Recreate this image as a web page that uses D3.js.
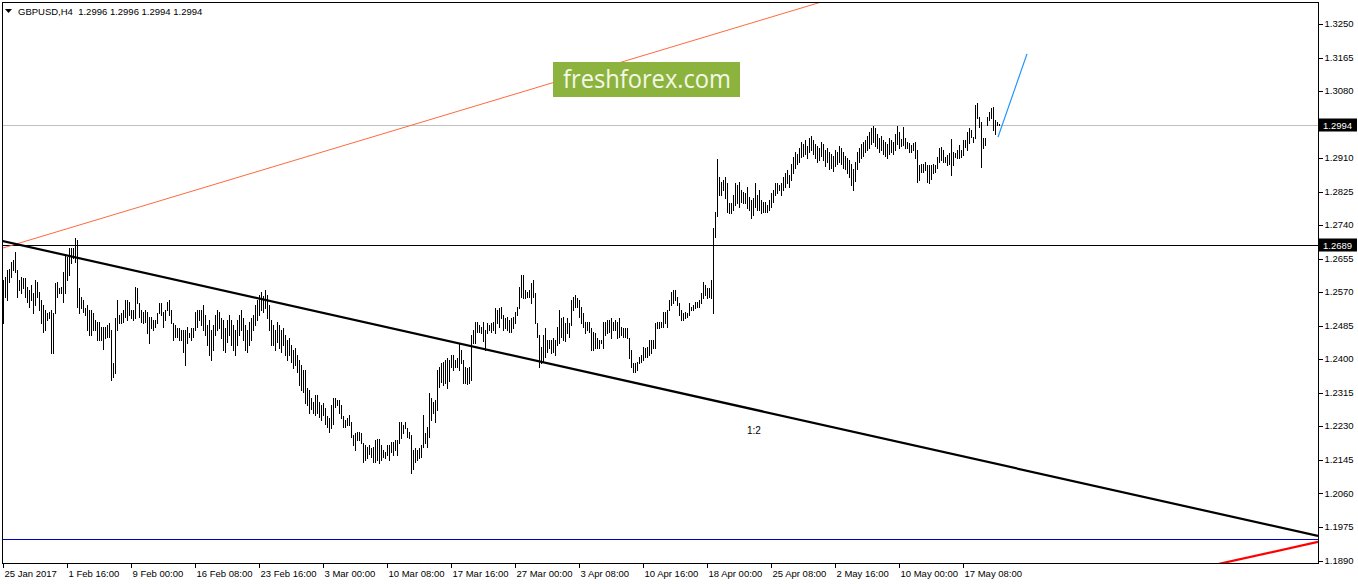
<!DOCTYPE html>
<html><head><meta charset="utf-8">
<script src="https://cdn.jsdelivr.net/npm/d3@7"></script>
<style>
body{margin:0;background:#fff;}
svg{display:block;}
text{font-family:"Liberation Sans",Arial,sans-serif;}
</style>
</head><body>
<svg id="c" width="1358" height="584"></svg>
<script>
// ---------------- data ----------------
const symbolTitle = "GBPUSD,H4";
const lastOHLC = ["1.2996", "1.2996", "1.2994", "1.2994"];

const xTickLabels = ["25 Jan 2017","1 Feb 16:00","9 Feb 00:00","16 Feb 08:00","23 Feb 16:00","3 Mar 00:00","10 Mar 08:00","17 Mar 16:00","27 Mar 00:00","3 Apr 08:00","10 Apr 16:00","18 Apr 00:00","25 Apr 08:00","2 May 16:00","10 May 00:00","17 May 08:00"];
const xTickBarIndex = [0,32,64,96,128,160,192,224,256,288,320,352,384,416,448,480];

const yTickValues = [1.3250,1.3165,1.3080,1.2910,1.2825,1.2740,1.2655,1.2570,1.2485,1.2400,1.2315,1.2230,1.2145,1.2060,1.1975,1.1890];

// H4 bar highs / lows, one per bar
const highs = [
1.2600,1.2608,1.2625,1.2629,1.2646,1.2651,1.2672,1.2625,1.2600,1.2608,
1.2604,1.2604,1.2583,1.2574,1.2587,1.2566,1.2600,1.2596,1.2570,1.2549,
1.2537,1.2524,1.2515,1.2520,1.2524,1.2515,1.2591,1.2596,1.2579,1.2583,
1.2621,1.2667,1.2659,1.2680,1.2680,1.2680,1.2706,1.2701,1.2579,1.2558,
1.2549,1.2528,1.2537,1.2524,1.2524,1.2515,1.2498,1.2494,1.2494,1.2481,
1.2481,1.2481,1.2486,1.2490,1.2473,1.2389,1.2503,1.2549,1.2511,1.2515,
1.2524,1.2549,1.2549,1.2545,1.2524,1.2524,1.2583,1.2579,1.2541,1.2524,
1.2520,1.2524,1.2520,1.2507,1.2507,1.2498,1.2498,1.2515,1.2541,1.2541,
1.2520,1.2524,1.2545,1.2549,1.2524,1.2490,1.2486,1.2477,1.2477,1.2473,
1.2473,1.2473,1.2481,1.2465,1.2477,1.2477,1.2520,1.2524,1.2524,1.2524,
1.2536,1.2511,1.2486,1.2498,1.2473,1.2486,1.2511,1.2524,1.2519,1.2503,
1.2498,1.2478,1.2498,1.2511,1.2498,1.2486,1.2473,1.2498,1.2511,1.2524,
1.2503,1.2486,1.2473,1.2493,1.2503,1.2511,1.2536,1.2549,1.2562,1.2569,
1.2559,1.2574,1.2562,1.2536,1.2498,1.2486,1.2473,1.2493,1.2486,1.2473,
1.2478,1.2460,1.2448,1.2453,1.2435,1.2422,1.2427,1.2410,1.2397,1.2384,
1.2372,1.2372,1.2325,1.2321,1.2300,1.2291,1.2308,1.2308,1.2291,1.2283,
1.2287,1.2275,1.2254,1.2249,1.2283,1.2300,1.2300,1.2296,1.2296,1.2283,
1.2254,1.2245,1.2249,1.2258,1.2241,1.2207,1.2211,1.2215,1.2215,1.2211,
1.2186,1.2182,1.2177,1.2182,1.2173,1.2177,1.2194,1.2198,1.2198,1.2182,
1.2169,1.2165,1.2182,1.2182,1.2190,1.2190,1.2194,1.2194,1.2241,1.2241,
1.2232,1.2241,1.2224,1.2215,1.2207,1.2169,1.2173,1.2169,1.2173,1.2182,
1.2258,1.2211,1.2228,1.2313,1.2300,1.2291,1.2296,1.2372,1.2380,1.2389,
1.2393,1.2397,1.2401,1.2397,1.2410,1.2410,1.2397,1.2401,1.2439,1.2422,
1.2397,1.2380,1.2376,1.2380,1.2460,1.2473,1.2494,1.2494,1.2486,1.2481,
1.2494,1.2473,1.2490,1.2486,1.2490,1.2494,1.2528,1.2524,1.2528,1.2532,
1.2511,1.2503,1.2507,1.2498,1.2503,1.2507,1.2520,1.2532,1.2583,1.2613,
1.2613,1.2575,1.2570,1.2575,1.2591,1.2600,1.2566,1.2490,1.2460,1.2431,
1.2460,1.2477,1.2448,1.2448,1.2448,1.2452,1.2448,1.2481,1.2524,1.2503,
1.2507,1.2490,1.2503,1.2490,1.2549,1.2558,1.2562,1.2553,1.2549,1.2532,
1.2515,1.2494,1.2494,1.2494,1.2477,1.2469,1.2465,1.2452,1.2448,1.2448,
1.2494,1.2494,1.2498,1.2498,1.2503,1.2494,1.2498,1.2494,1.2503,1.2481,
1.2477,1.2477,1.2477,1.2452,1.2422,1.2389,1.2389,1.2393,1.2405,1.2410,
1.2431,1.2427,1.2431,1.2448,1.2448,1.2448,1.2490,1.2494,1.2494,1.2494,
1.2520,1.2520,1.2524,1.2549,1.2570,1.2575,1.2575,1.2558,1.2541,1.2524,
1.2515,1.2520,1.2515,1.2541,1.2532,1.2537,1.2545,1.2545,1.2549,1.2566,
1.2596,1.2587,1.2579,1.2579,1.2600,1.2731,1.2773,1.2907,1.2862,1.2849,
1.2853,1.2862,1.2845,1.2794,1.2794,1.2815,1.2845,1.2841,1.2849,1.2828,
1.2824,1.2820,1.2836,1.2811,1.2803,1.2807,1.2845,1.2815,1.2828,1.2803,
1.2798,1.2798,1.2790,1.2803,1.2820,1.2828,1.2845,1.2845,1.2841,1.2845,
1.2860,1.2870,1.2878,1.2866,1.2895,1.2912,1.2925,1.2920,1.2935,1.2950,
1.2945,1.2955,1.2940,1.2960,1.2965,1.2955,1.2945,1.2940,1.2935,1.2950,
1.2945,1.2930,1.2935,1.2925,1.2920,1.2915,1.2930,1.2925,1.2940,1.2935,
1.2925,1.2915,1.2910,1.2905,1.2895,1.2880,1.2900,1.2925,1.2935,1.2945,
1.2950,1.2955,1.2965,1.2975,1.2985,1.2990,1.2985,1.2970,1.2960,1.2965,
1.2955,1.2950,1.2945,1.2960,1.2955,1.2950,1.2970,1.2990,1.2975,1.2956,
1.2988,1.2959,1.2950,1.2946,1.2942,1.2946,1.2950,1.2929,1.2891,1.2895,
1.2895,1.2900,1.2891,1.2891,1.2891,1.2895,1.2891,1.2912,1.2934,1.2938,
1.2929,1.2912,1.2917,1.2921,1.2956,1.2925,1.2921,1.2929,1.2942,1.2929,
1.2955,1.2955,1.2976,1.2984,1.2980,1.2963,1.3043,1.3048,1.3014,1.3001,
1.2959,1.2959,1.3014,1.3026,1.3035,1.3039,1.3005,1.3001,1.2996
];
const lows = [
1.2492,1.2558,1.2549,1.2596,1.2608,1.2625,1.2621,1.2558,1.2574,1.2566,
1.2579,1.2558,1.2545,1.2532,1.2549,1.2516,1.2537,1.2558,1.2524,1.2490,
1.2469,1.2473,1.2498,1.2503,1.2414,1.2414,1.2515,1.2558,1.2566,1.2566,
1.2545,1.2566,1.2600,1.2612,1.2642,1.2655,1.2646,1.2532,1.2515,1.2528,
1.2520,1.2511,1.2473,1.2460,1.2460,1.2473,1.2473,1.2448,1.2448,1.2448,
1.2426,1.2452,1.2456,1.2456,1.2346,1.2355,1.2363,1.2473,1.2490,1.2490,
1.2494,1.2507,1.2498,1.2511,1.2503,1.2498,1.2503,1.2541,1.2507,1.2494,
1.2490,1.2494,1.2465,1.2439,1.2477,1.2473,1.2481,1.2490,1.2515,1.2511,
1.2481,1.2498,1.2524,1.2511,1.2490,1.2448,1.2456,1.2456,1.2448,1.2448,
1.2418,1.2384,1.2439,1.2456,1.2448,1.2456,1.2473,1.2481,1.2498,1.2486,
1.2473,1.2460,1.2435,1.2410,1.2397,1.2422,1.2460,1.2473,1.2478,1.2453,
1.2422,1.2417,1.2443,1.2460,1.2435,1.2422,1.2410,1.2435,1.2460,1.2473,
1.2448,1.2422,1.2417,1.2435,1.2448,1.2473,1.2486,1.2498,1.2511,1.2524,
1.2519,1.2529,1.2503,1.2473,1.2435,1.2435,1.2422,1.2443,1.2427,1.2417,
1.2435,1.2410,1.2397,1.2410,1.2392,1.2377,1.2384,1.2367,1.2334,1.2321,
1.2316,1.2287,1.2283,1.2262,1.2274,1.2262,1.2258,1.2262,1.2253,1.2245,
1.2258,1.2236,1.2228,1.2215,1.2224,1.2236,1.2279,1.2283,1.2262,1.2249,
1.2228,1.2228,1.2232,1.2232,1.2203,1.2182,1.2169,1.2194,1.2194,1.2186,
1.2139,1.2144,1.2148,1.2160,1.2152,1.2139,1.2139,1.2144,1.2135,1.2144,
1.2152,1.2148,1.2156,1.2144,1.2165,1.2156,1.2169,1.2156,1.2186,1.2199,
1.2211,1.2224,1.2203,1.2199,1.2110,1.2122,1.2139,1.2144,1.2148,1.2152,
1.2177,1.2186,1.2177,1.2203,1.2245,1.2262,1.2241,1.2270,1.2329,1.2342,
1.2333,1.2338,1.2325,1.2345,1.2380,1.2372,1.2380,1.2380,1.2372,1.2389,
1.2340,1.2340,1.2335,1.2340,1.2346,1.2440,1.2440,1.2469,1.2469,1.2465,
1.2444,1.2422,1.2465,1.2473,1.2469,1.2473,1.2465,1.2490,1.2481,1.2503,
1.2473,1.2477,1.2473,1.2469,1.2469,1.2477,1.2490,1.2511,1.2528,1.2558,
1.2553,1.2553,1.2558,1.2558,1.2541,1.2558,1.2490,1.2456,1.2380,1.2389,
1.2393,1.2405,1.2418,1.2427,1.2414,1.2418,1.2410,1.2435,1.2439,1.2456,
1.2448,1.2444,1.2465,1.2456,1.2486,1.2524,1.2532,1.2532,1.2507,1.2490,
1.2481,1.2465,1.2473,1.2469,1.2422,1.2422,1.2427,1.2427,1.2427,1.2439,
1.2427,1.2460,1.2465,1.2469,1.2452,1.2473,1.2473,1.2452,1.2456,1.2460,
1.2456,1.2456,1.2452,1.2401,1.2380,1.2367,1.2367,1.2372,1.2389,1.2393,
1.2397,1.2405,1.2405,1.2410,1.2414,1.2427,1.2427,1.2477,1.2477,1.2481,
1.2481,1.2490,1.2481,1.2524,1.2537,1.2541,1.2549,1.2537,1.2511,1.2498,
1.2498,1.2503,1.2507,1.2511,1.2524,1.2524,1.2528,1.2532,1.2532,1.2541,
1.2553,1.2562,1.2553,1.2558,1.2553,1.2515,1.2710,1.2762,1.2815,1.2815,
1.2828,1.2807,1.2773,1.2769,1.2769,1.2777,1.2790,1.2794,1.2786,1.2798,
1.2794,1.2794,1.2782,1.2777,1.2756,1.2765,1.2786,1.2777,1.2777,1.2769,
1.2773,1.2773,1.2773,1.2777,1.2786,1.2798,1.2815,1.2820,1.2828,1.2815,
1.2828,1.2836,1.2845,1.2836,1.2853,1.2870,1.2885,1.2895,1.2900,1.2912,
1.2915,1.2920,1.2910,1.2925,1.2930,1.2920,1.2910,1.2900,1.2905,1.2915,
1.2905,1.2890,1.2900,1.2880,1.2885,1.2875,1.2890,1.2895,1.2900,1.2895,
1.2885,1.2880,1.2870,1.2860,1.2840,1.2828,1.2850,1.2880,1.2900,1.2910,
1.2915,1.2925,1.2930,1.2935,1.2945,1.2950,1.2940,1.2935,1.2925,1.2930,
1.2920,1.2915,1.2910,1.2920,1.2925,1.2920,1.2930,1.2945,1.2935,1.2939,
1.2942,1.2934,1.2934,1.2925,1.2925,1.2929,1.2908,1.2849,1.2853,1.2874,
1.2874,1.2879,1.2849,1.2845,1.2857,1.2870,1.2874,1.2883,1.2900,1.2904,
1.2900,1.2900,1.2891,1.2895,1.2866,1.2891,1.2912,1.2908,1.2908,1.2912,
1.2917,1.2938,1.2929,1.2946,1.2963,1.2950,1.2959,1.3010,1.2988,1.2887,
1.2934,1.2942,1.2993,1.3005,1.3010,1.2980,1.2971,1.2993,1.2994
];

const bidPrice = 1.2994;
const levelPrice = 1.2689;
const supportPrice = 1.1943;
// trend lines as [barIndex, price] anchor pairs
const gannLine = [[-0.5, 1.2699], [657.5, 1.1951]];
const gannLabel = {i: 372, p: 1.2209, text: "1:2"};
const fanLine = [[0, 1.2681], [407.5, 1.3302]];
const mirrorLine = [[609.5, 1.1882], [657.5, 1.1936]];
const forecastLine = [[497.5, 1.2962], [512, 1.3173]];

// ---------------- chart ----------------
const svg = d3.select("#c");
const L = 2.5, T = 2.5, R = 1318.5, B = 563.5;

const x = d3.scaleLinear().domain([0, 498]).range([3, 999]);
const y = d3.scaleLinear().domain([1.18825, 1.33020]).range([563, 3]);

svg.append("defs").append("clipPath").attr("id", "plot")
  .append("rect").attr("x", 3).attr("y", 3).attr("width", 1315).attr("height", 560);

const plot = svg.append("g").attr("clip-path", "url(#plot)");

// horizontal levels
function hline(p, color) {
  const yy = Math.round(y(p)) + 0.5;
  plot.append("line").attr("x1", 3).attr("x2", 1318).attr("y1", yy).attr("y2", yy)
    .attr("stroke", color).attr("stroke-width", 1).attr("shape-rendering", "crispEdges");
}
hline(bidPrice, "#c0c0c0");
hline(levelPrice, "#000000");
hline(supportPrice, "#0000c8");

// extend a two-point line to another bar index (ray)
function ray(pts, fromIdx, toIdx) {
  const [a, b] = pts;
  const slope = (b[1] - a[1]) / (b[0] - a[0]);
  const at = i => [i, a[1] + slope * (i - a[0])];
  return [fromIdx === undefined ? a : at(fromIdx), toIdx === undefined ? b : at(toIdx)];
}
const lineGen = d3.line().x(d => x(d[0])).y(d => y(d[1]));

plot.append("path").attr("d", lineGen(ray(fanLine, undefined, 700)))
  .attr("fill", "none").attr("stroke", "#ff6a3d").attr("stroke-width", 1);
plot.append("path").attr("d", lineGen(gannLine))
  .attr("fill", "none").attr("stroke", "#000").attr("stroke-width", 2.2);
plot.append("path").attr("d", lineGen(ray(mirrorLine, 600, undefined)))
  .attr("fill", "none").attr("stroke", "#ff0000").attr("stroke-width", 2.2);

// bars (high-low)
plot.append("g").selectAll("line").data(highs).join("line")
  .attr("x1", (d, i) => Math.round(x(i)) + 0.5)
  .attr("x2", (d, i) => Math.round(x(i)) + 0.5)
  .attr("y1", d => Math.round(y(d)))
  .attr("y2", (d, i) => Math.round(y(lows[i])) + 1)
  .attr("stroke", "#000").attr("stroke-width", 1).attr("shape-rendering", "crispEdges");

// forecast
plot.append("path").attr("d", lineGen(forecastLine))
  .attr("fill", "none").attr("stroke", "#1e90ff").attr("stroke-width", 1.2);

// label 1:2
plot.append("text").attr("x", x(gannLabel.i)).attr("y", y(gannLabel.p))
  .attr("font-size", "10px").attr("fill", "#000").text(gannLabel.text);

// watermark
const wm = svg.append("g");
wm.append("rect").attr("x", 553).attr("y", 62).attr("width", 187).attr("height", 35).attr("fill", "#8db33f");
wm.append("text").attr("x", 563).attr("y", 88).attr("font-size", "25px")
  .style("font-family", "'Open Sans', sans-serif")
  .attr("textLength", 168).attr("lengthAdjust", "spacingAndGlyphs")
  .attr("fill", "#f4f8e6").text("freshforex.com");

// frame
svg.append("rect").attr("x", L).attr("y", T).attr("width", R - L).attr("height", B - T)
  .attr("fill", "none").attr("stroke", "#000").attr("stroke-width", 1).attr("shape-rendering", "crispEdges");

// y axis
const yAxis = d3.axisRight(y).tickValues(yTickValues).tickSize(4).tickPadding(2)
  .tickFormat(d3.format(".4f"));
const gy = svg.append("g").attr("transform", `translate(${R},0)`).call(yAxis);
gy.select(".domain").remove();
gy.selectAll("line").attr("stroke", "#000").attr("shape-rendering", "crispEdges")
  .attr("transform", "translate(0,0.5)");
gy.selectAll("text").attr("font-size", "9.5px").style("font-family", "'Liberation Sans', Arial, sans-serif").attr("fill", "#000");

// x axis
const xAxis = d3.axisBottom(x).tickValues(xTickBarIndex).tickSize(4).tickPadding(3)
  .tickFormat((d, k) => xTickLabels[k]);
const gx = svg.append("g").attr("transform", `translate(0,${B})`).call(xAxis);
gx.select(".domain").remove();
gx.selectAll(".tick").attr("transform", d => `translate(${Math.round(x(d)) + 0.5},0)`);
gx.selectAll("line").attr("stroke", "#000").attr("shape-rendering", "crispEdges");
gx.selectAll("text").attr("text-anchor", "start").attr("x", 1).attr("font-size", "9.5px")
  .style("font-family", "'Liberation Sans', Arial, sans-serif").attr("fill", "#000");

// price tags
function tag(p) {
  const yy = Math.round(y(p)) + 0.5;
  svg.append("rect").attr("x", 1319).attr("y", yy - 7).attr("width", 38).attr("height", 13).attr("fill", "#000");
  svg.append("text").attr("x", 1323).attr("y", yy + 3.5).attr("font-size", "9.5px")
    .attr("fill", "#fff").text(d3.format(".4f")(p));
}
tag(bidPrice);
tag(levelPrice);

// header
svg.append("path").attr("d", "M5,9 L12,9 L8.5,13 Z").attr("fill", "#000");
svg.append("text").attr("x", 18).attr("y", 15).attr("font-size", "9.5px").attr("fill", "#000")
  .style("white-space", "pre")
  .text(symbolTitle + "  " + lastOHLC.join(" "));
</script>
</body></html>
